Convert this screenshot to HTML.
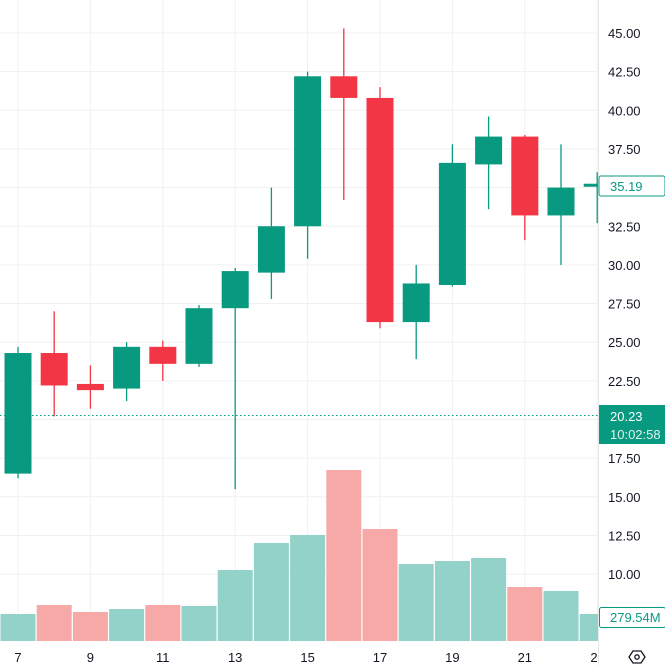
<!DOCTYPE html>
<html><head><meta charset="utf-8"><style>
html,body{margin:0;padding:0;background:#fff;}
svg{display:block;font-family:"Liberation Sans",sans-serif;}
</style></head><body>
<svg id="c" width="665" height="665" viewBox="0 0 665 665" xmlns="http://www.w3.org/2000/svg"></svg>
<script>
const s=document.getElementById('c');
const NS='http://www.w3.org/2000/svg';
function el(t,a,txt){const e=document.createElementNS(NS,t);for(const k in a)e.setAttribute(k,a[k]);if(txt!==undefined)e.textContent=txt;s.appendChild(e);return e;}
const Y=v=>33+(45-v)*15.46;
const X=d=>18+(d-7)*36.2;
// grid
for(let v=10;v<=47.5;v+=2.5){el('line',{x1:0,x2:598,y1:Y(v),y2:Y(v),stroke:'#f0f0f0','stroke-width':1});}
for(let d=7;d<=23;d+=2){el('line',{x1:X(d),x2:X(d),y1:0,y2:641,stroke:'#f0f0f0','stroke-width':1});}
// volume
const vol=[[7,614,'g'],[8,605,'r'],[9,612,'r'],[10,609,'g'],[11,605,'r'],[12,606,'g'],[13,570,'g'],[14,543,'g'],[15,535,'g'],[16,470,'r'],[17,529,'r'],[18,564,'g'],[19,561,'g'],[20,558,'g'],[21,587,'r'],[22,591,'g'],[23,614,'g']];
vol.forEach(([d,t,c])=>{let x=X(d)-17.5,w=35;if(x+w>598)w=598-x;el('rect',{x:x,y:t,width:w,height:641-t,fill:c=='g'?'#92d2c8':'#f7a9a7'});});
// candles [day,open,close,high,low]
const cd=[[7,16.5,24.3,24.7,16.2],[8,24.3,22.2,27,20.2],[9,22.3,21.9,23.5,20.7],[10,22.0,24.7,25.0,21.2],[11,24.7,23.6,25.1,22.5],[12,23.6,27.2,27.4,23.4],[13,27.2,29.6,29.8,15.5],[14,29.5,32.5,35.0,27.8],[15,32.5,42.2,42.5,30.4],[16,42.2,40.8,45.3,34.2],[17,40.8,26.3,41.5,25.9],[18,26.3,28.8,30.0,23.9],[19,28.7,36.6,37.8,28.6],[20,36.5,38.3,39.6,33.6],[21,38.3,33.2,38.4,31.6],[22,33.2,35.0,37.8,30.0],[23,35.1,35.25,36.0,32.7]];
cd.forEach(([d,o,c,h,l])=>{const col=c>=o?'#089981':'#f23645';const x=X(d);
 el('line',{x1:x,x2:x,y1:Y(h),y2:Y(l),stroke:col,'stroke-width':1.3});
 let t=Y(Math.max(o,c)),b=Y(Math.min(o,c));if(b-t<3){b=t+3;}
 let bx=x-13.5,bw=27;if(bx+bw>598)bw=598-bx;
 el('rect',{x:bx,y:t,width:bw,height:b-t,fill:col});});
// dotted current line
el('line',{x1:0,x2:598,y1:415.5,y2:415.5,stroke:'#089981','stroke-width':1,'stroke-dasharray':'1.5,2.5'});
// axis area
el('rect',{x:598.5,y:0,width:67,height:665,fill:'#fff'});
el('line',{x1:598.5,x2:598.5,y1:0,y2:665,stroke:'#e8e8e8'});
el('rect',{x:0,y:641,width:598,height:24,fill:'#fff'});
for(let v=10;v<=47.5;v+=2.5){if(Math.abs(v-20)<0.1)continue;el('text',{x:608,y:Y(v)+5,'font-size':13,fill:'#131722'},v.toFixed(2));}
// labels
el('rect',{x:599,y:176,width:66,height:20,fill:'#fff',stroke:'#089981','stroke-width':1,rx:2});
el('text',{x:610,y:191,'font-size':13,fill:'#089981'},'35.19');
el('rect',{x:599,y:405,width:66,height:39,fill:'#089981'});
el('text',{x:610,y:421,'font-size':13,fill:'#fff'},'20.23');
el('text',{x:610,y:439,'font-size':13,fill:'#e0f2ef'},'10:02:58');
el('rect',{x:599.5,y:607.5,width:66,height:20,fill:'#fff',stroke:'#089981','stroke-width':1,rx:2});
el('text',{x:610,y:622,'font-size':13,fill:'#089981'},'279.54M');
// x labels
[[7,'7'],[9,'9'],[11,'11'],[13,'13'],[15,'15'],[17,'17'],[19,'19'],[21,'21'],[23,'2']].forEach(([d,t])=>{el('text',{x:d==23?594:X(d),y:662,'font-size':13,fill:'#131722','text-anchor':'middle'},t);});
// settings icon
el('polygon',{points:'629,657 633,651 641,651 645,657 641,663 633,663',fill:'none',stroke:'#131722','stroke-width':1.3});
el('circle',{cx:637,cy:657,r:2.2,fill:'none',stroke:'#131722','stroke-width':1.3});
</script>
</body></html>
